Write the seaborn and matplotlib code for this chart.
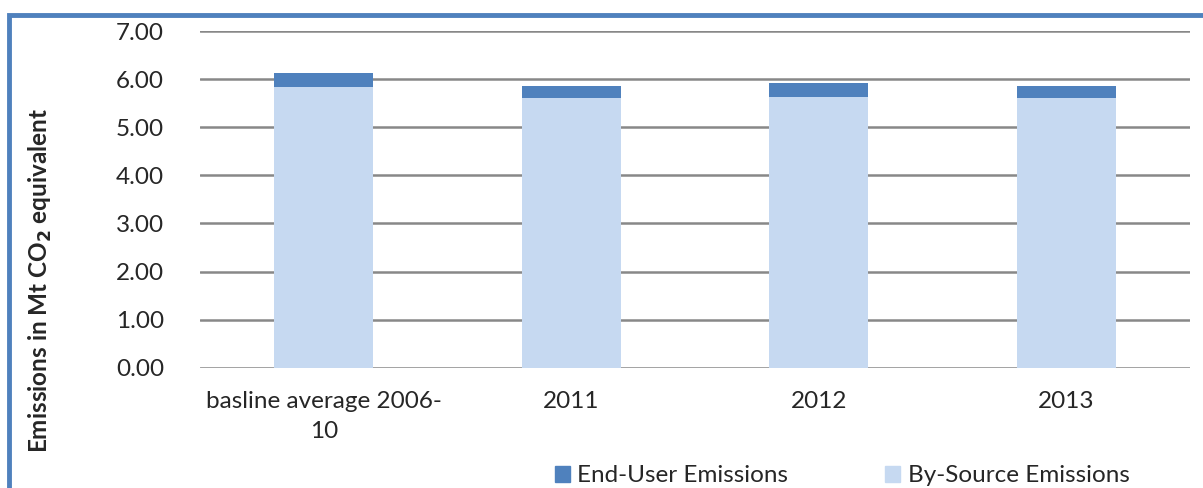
import numpy as np
import pandas as pd
import seaborn as sns
import matplotlib.pyplot as plt
from matplotlib.patches import Patch, Rectangle

# values (Mt CO2 equivalent)
categories = ["basline average 2006-\n10", "2011", "2012", "2013"]
by_source = [5.83, 5.61, 5.63, 5.60]
end_user = [0.30, 0.25, 0.29, 0.25]
yticks = [0, 1, 2, 3, 4, 5, 6, 7]

dark_blue = "#4F81BD"
light_blue = "#C6D9F1"

df = pd.DataFrame({"category": categories, "by_source": by_source, "end_user": end_user})
df["total"] = df["by_source"] + df["end_user"]

sns.set_style("white")
plt.rcParams["font.family"] = ["Lato", "DejaVu Sans"]

fig = plt.figure(figsize=(12.03, 4.88), dpi=100)
ax = fig.add_axes([200 / 1203, 120.3 / 488, 990 / 1203, 336.7 / 488])

# stacked bars: draw total first, then the lower segment over it
sns.barplot(data=df, x="category", y="total", color=dark_blue, width=0.4,
            linewidth=0, saturation=1, ax=ax)
sns.barplot(data=df, x="category", y="by_source", color=light_blue, width=0.4,
            linewidth=0, saturation=1, ax=ax)

ax.set_ylim(0, 7)
ax.set_yticks(yticks)
ax.set_yticklabels([f"{v:.2f}" for v in yticks], fontsize=17.5)
for lab in ax.get_xticklabels():
    lab.set_linespacing(1.5)
ax.tick_params(axis="x", labelsize=17.5, length=0, pad=17)
ax.tick_params(axis="y", length=0, pad=26)
ax.set_xlabel("")
ax.set_ylabel("")
ax.yaxis.grid(True, color="#888888", linewidth=1.8)
ax.set_axisbelow(True)
for s in ax.spines.values():
    s.set_visible(False)

fig.text(40 / 1203, 1 - 281 / 488, r"Emissions in Mt CO$_\mathbf{2}$ equivalent",
         rotation=90, ha="center", va="center", fontsize=17.5, fontweight="bold")

handles = [Patch(color=dark_blue, label="End-User Emissions"),
           Patch(color=light_blue, label="By-Source Emissions")]
fig.legend(handles=handles, loc="center", bbox_to_anchor=(842 / 1203, 1 - 476 / 488),
           ncol=2, frameon=False, fontsize=17.5, handlelength=0.62, handleheight=0.62,
           handletextpad=0.3, columnspacing=4.0, borderaxespad=0, borderpad=0)

# blue chart frame running off the right/bottom edges
fig.add_artist(Rectangle((9 / 1203, -0.2), 1.2, 1.2 - 15 / 488,
                         transform=fig.transFigure, fill=False,
                         edgecolor=dark_blue, linewidth=3.5, clip_on=False))

fig.savefig("out.png", dpi=100)
